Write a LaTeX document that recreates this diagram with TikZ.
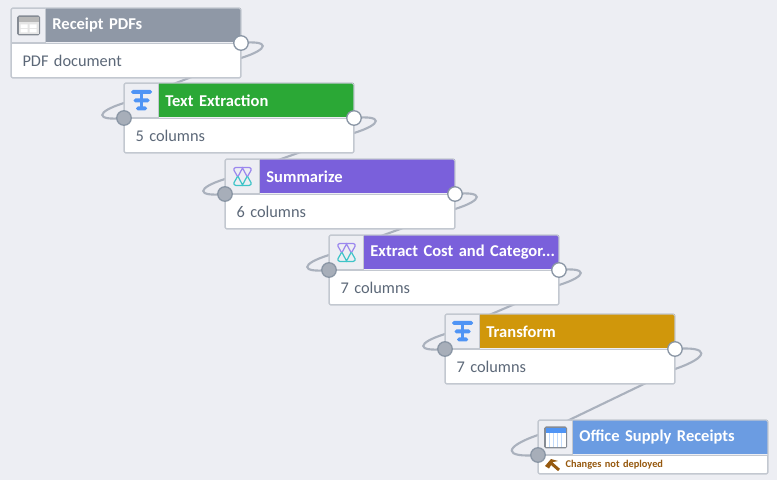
\documentclass[tikz,border=0pt]{standalone}
\usepackage{fontspec}
\setmainfont[WordSpace=0.7]{Carlito}
\usetikzlibrary{calc,backgrounds}
\definecolor{pagebg}{HTML}{EDEEF3}
\definecolor{edgeline}{HTML}{C3C8D0}
\definecolor{wirecol}{HTML}{AAB1BD}
\definecolor{inkmuted}{HTML}{5C6878}
\definecolor{slatehead}{HTML}{8F98A6}
\definecolor{greenhead}{HTML}{2BA836}
\definecolor{violethead}{HTML}{7A60DB}
\definecolor{amberhead}{HTML}{D0970B}
\definecolor{bluehead}{HTML}{6B9CE2}
\definecolor{iconblue}{HTML}{4F94F5}
\definecolor{iconviolet}{HTML}{9B87EE}
\definecolor{iconteal}{HTML}{3FC4C8}
\definecolor{icongrey}{HTML}{858B94}
\definecolor{portrim}{HTML}{8A96A5}
\definecolor{portfill}{HTML}{A7AEB9}
\definecolor{hammer}{HTML}{96590F}
\tikzset{
  tfmicon/.pic={
    \fill[iconblue, rounded corners=1pt] (-10.5,-10.5) rectangle (10.5,-6.5);
    \fill[iconblue, rounded corners=1pt] (-8,-2) rectangle (8,2);
    \fill[iconblue, rounded corners=1pt] (-5.5,6) rectangle (5.5,10);
    \fill[iconblue] (-1.2,-7) rectangle (1.2,7);
  },
  xxicon/.pic={
    \draw[iconviolet, line width=0.7pt, rounded corners=0.5pt] (-5,0) -- (-9,-7) -- (-7.5,-9) -- (7.5,-9) -- (9,-7) -- (5,0);
    \draw[iconviolet, line width=0.7pt] (-4.5,0) -- (0,-8.5) -- (4.5,0);
    \draw[iconteal, line width=0.7pt, rounded corners=0.5pt] (-5,0) -- (-9,7) -- (-7.5,9) -- (7.5,9) -- (9,7) -- (5,0);
    \draw[iconteal, line width=0.7pt] (-4.5,0) -- (0,8.5) -- (4.5,0);
  },
  gridicon/.pic={
    \fill[icongrey, rounded corners=1pt] (-11.5,-10) rectangle (11.5,10);
    \fill[black!10] (-10,-8.5) rectangle (10,8.5);
    \fill[black!28] (-10,-8.5) rectangle (10,-3.5);
    \fill[white] (-8,-1) rectangle (-1,2.5) (1,-1) rectangle (8,2.5) (-8,3.5) rectangle (-1,7) (1,3.5) rectangle (8,7);
  },
  sheeticon/.pic={
    \fill[icongrey, rounded corners=1pt] (-11.5,-11) rectangle (11.5,11);
    \fill[white] (-10,-9.5) rectangle (10,9.5);
    \fill[iconblue] (-10,-9.5) rectangle (10,-4);
    \foreach \cx in {-6,-2,2,6}
      \fill[iconblue!35] (\cx-0.5,-4) rectangle (\cx+0.5,9.5);
  },
  hammericon/.pic={
    \fill[hammer] (-7,1) -- (-1,-6) -- (6,-4) -- (1,-3) -- (-3,3.5) -- cycle;
    \draw[hammer, line width=1.7pt] (-1,-2) -- (7,5);
  }
}
\newcommand{\wire}[4]{%
  \draw[wireline] (#1.center) .. controls +(#4,-3) and +(#4,-#3*0.6) .. ($(#1.center)+(0,#3)$)
    -- ($(#2.center)+(0,-#3)$) .. controls +(-#4,#3*0.6) and +(-#4,3) .. (#2.center);}
\begin{document}
\begin{tikzpicture}[x=0.02cm, y=-0.02cm]
  \tikzset{
    wireline/.style={draw=wirecol, line width=1.2pt},
    foot/.style={draw=edgeline, fill=white, line width=0.6pt, anchor=north west, minimum width=4.58cm, minimum height=0.68cm, inner sep=0pt, text width=4.14cm, align=left, font=\fontsize{9.3}{10}\selectfont, text=inkmuted},
    tile/.style={draw=edgeline, fill=pagebg, line width=0.6pt, anchor=south west, minimum width=0.68cm, minimum height=0.68cm, inner sep=0pt},
    head/.style={anchor=west, minimum width=3.9cm, minimum height=0.68cm, inner sep=0pt, text width=3.66cm, align=left, text=white, font=\fontsize{9.4}{10}\selectfont\bfseries},
    outline/.style={draw=edgeline, line width=0.7pt, rounded corners=1pt},
    outport/.style={circle, draw=portrim, fill=white, line width=0.75pt, minimum size=0.29cm, inner sep=0pt},
    inport/.style={circle, draw=portrim, fill=portfill, line width=0.75pt, minimum size=0.29cm, inner sep=0pt},
  }
\useasboundingbox (0,0) rectangle (777,480);
\node[foot] (pdfsfoot) at (11,43) {PDF document};
\node[tile] (pdfsicon) at (pdfsfoot.north west) {};
\node[head, fill=slatehead] (pdfshead) at (pdfsicon.east) {Receipt PDFs};
\draw[outline] (pdfsicon.north west) rectangle (pdfsfoot.south east);
\pic at (pdfsicon.center) {gridicon};
\node[outport] (pdfsout) at (pdfsfoot.north east) {};

\node[foot] (textfoot) at (124,118) {5 columns};
\node[tile] (texticon) at (textfoot.north west) {};
\node[head, fill=greenhead] (texthead) at (texticon.east) {Text Extraction};
\draw[outline] (texticon.north west) rectangle (textfoot.south east);
\pic at (texticon.center) {tfmicon};
\node[inport] (textin) at (textfoot.north west) {};
\node[outport] (textout) at (textfoot.north east) {};

\node[foot] (sumfoot) at (225,194) {6 columns};
\node[tile] (sumicon) at (sumfoot.north west) {};
\node[head, fill=violethead] (sumhead) at (sumicon.east) {Summarize};
\draw[outline] (sumicon.north west) rectangle (sumfoot.south east);
\pic at (sumicon.center) {xxicon};
\node[inport] (sumin) at (sumfoot.north west) {};
\node[outport] (sumout) at (sumfoot.north east) {};

\node[foot] (costfoot) at (329,270) {7 columns};
\node[tile] (costicon) at (costfoot.north west) {};
\node[head, fill=violethead] (costhead) at (costicon.east) {\mbox{Extract Cost and Categor...}};
\draw[outline] (costicon.north west) rectangle (costfoot.south east);
\pic at (costicon.center) {xxicon};
\node[inport] (costin) at (costfoot.north west) {};
\node[outport] (costout) at (costfoot.north east) {};

\node[foot] (tfmfoot) at (445,349) {7 columns};
\node[tile] (tfmicon) at (tfmfoot.north west) {};
\node[head, fill=amberhead] (tfmhead) at (tfmicon.east) {Transform};
\draw[outline] (tfmicon.north west) rectangle (tfmfoot.south east);
\pic at (tfmicon.center) {tfmicon};
\node[inport] (tfmin) at (tfmfoot.north west) {};
\node[outport] (tfmout) at (tfmfoot.north east) {};

\node[foot, minimum height=0.36cm, text width=4.1cm, text=hammer, font=\fontsize{5.9}{7}\selectfont\bfseries] (rcptfoot) at (538,455) {\hspace*{0.3cm}Changes not deployed};
\node[tile] (rcpticon) at (rcptfoot.north west) {};
\node[head, fill=bluehead] (rcpthead) at (rcpticon.east) {Office Supply Receipts};
\draw[outline] (rcpticon.north west) rectangle (rcptfoot.south east);
\pic at (rcpticon.center) {sheeticon};
\pic at (552,465) {hammericon};
\node[inport] (rcptin) at (rcptfoot.north west) {};

\begin{pgfonlayer}{background}
  \fill[pagebg] (0,0) rectangle (777,480);
  \wire{pdfsout}{textin}{15}{29}
  \wire{textout}{sumin}{15}{29}
  \wire{sumout}{costin}{15}{29}
  \wire{costout}{tfmin}{15}{29}
  \wire{tfmout}{rcptin}{20}{35}
\end{pgfonlayer}
\end{tikzpicture}
\end{document}
